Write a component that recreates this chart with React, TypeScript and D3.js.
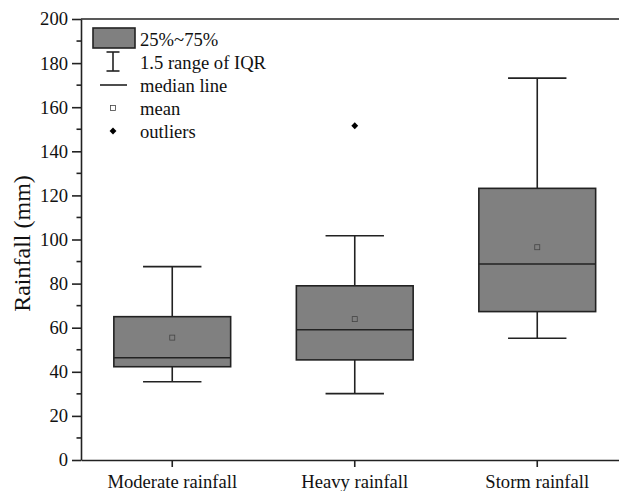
import { useEffect, useRef } from 'react';
import * as d3 from 'd3';

const WIDTH = 619;
const HEIGHT = 491;
const MARGIN = { top: 19, left: 81, bottom: 31 };
const STEP = 182.5;
const FONT = 'Liberation Serif, Times New Roman, serif';

const categories = ['Moderate rainfall', 'Heavy rainfall', 'Storm rainfall'];
const q1 = [42.3, 45.4, 67.3];
const median = [46.4, 59.1, 88.9];
const q3 = [65.0, 79.0, 123.2];
const whiskerLow = [35.5, 30.1, 55.2];
const whiskerHigh = [87.7, 101.7, 173.2];
const means = [55.5, 63.9, 96.5];
const outliers = [{ cat: 'Heavy rainfall', value: 151.6 }];
const yTicks = [0, 20, 40, 60, 80, 100, 120, 140, 160, 180, 200];
const legendItems = ['25%~75%', '1.5 range of IQR', 'median line', 'mean', 'outliers'];

export default function App() {
  const svgRef = useRef<SVGSVGElement>(null);

  useEffect(() => {
    document.body.style.margin = '0';
    const svg = d3.select(svgRef.current);
    svg.selectAll('*').remove();

    const bottom = HEIGHT - MARGIN.bottom;
    const x = d3.scaleBand().domain(categories).range([MARGIN.left, MARGIN.left + STEP * 3]).padding(0);
    const y = d3.scaleLinear().domain([0, 200]).range([bottom, MARGIN.top]);
    const cx = (c: string) => (x(c) as number) + x.bandwidth() / 2;
    const boxW = x.bandwidth() * 0.64;
    const capW = boxW / 2;
    const ink = '#222';

    // Y axis
    const yAxis = svg.append('g')
      .attr('transform', `translate(${MARGIN.left},0)`)
      .call(d3.axisLeft(y).tickValues(yTicks).tickSize(9).tickSizeOuter(0).tickPadding(4));
    yAxis.attr('font-family', FONT).attr('font-size', 18.6);
    yAxis.selectAll('text').attr('fill', '#111');
    yAxis.selectAll('.domain, .tick line').attr('stroke', ink).attr('stroke-width', 1.6);
    svg.append('g')
      .selectAll('line')
      .data(d3.range(10, 200, 20))
      .join('line')
      .attr('x1', MARGIN.left - 4.5)
      .attr('x2', MARGIN.left)
      .attr('y1', (d) => y(d))
      .attr('y2', (d) => y(d))
      .attr('stroke', ink)
      .attr('stroke-width', 1.6);

    // X axis
    const xAxis = svg.append('g')
      .attr('transform', `translate(0,${bottom})`)
      .call(d3.axisBottom(x).tickSize(7).tickSizeOuter(0).tickPadding(8));
    xAxis.attr('font-family', FONT).attr('font-size', 18.6);
    xAxis.selectAll('text').attr('fill', '#111');
    xAxis.selectAll('.domain, .tick line').attr('stroke', ink).attr('stroke-width', 1.6);

    // Top frame
    svg.append('line')
      .attr('x1', MARGIN.left).attr('x2', WIDTH)
      .attr('y1', y(200)).attr('y2', y(200))
      .attr('stroke', ink).attr('stroke-width', 1.6);

    // Y label
    svg.append('text')
      .attr('transform', `translate(30,${(y(0) + y(200)) / 2 + 4}) rotate(-90)`)
      .attr('text-anchor', 'middle')
      .attr('font-family', FONT)
      .attr('font-size', 24)
      .attr('fill', '#111')
      .text('Rainfall (mm)');

    // Boxes
    const g = svg.append('g');
    categories.forEach((c, i) => {
      const m = cx(c);
      g.append('line').attr('x1', m).attr('x2', m).attr('y1', y(whiskerHigh[i])).attr('y2', y(q3[i])).attr('stroke', ink).attr('stroke-width', 1.6);
      g.append('line').attr('x1', m).attr('x2', m).attr('y1', y(q1[i])).attr('y2', y(whiskerLow[i])).attr('stroke', ink).attr('stroke-width', 1.6);
      [whiskerHigh[i], whiskerLow[i]].forEach((v) => {
        g.append('line').attr('x1', m - capW / 2).attr('x2', m + capW / 2).attr('y1', y(v)).attr('y2', y(v)).attr('stroke', ink).attr('stroke-width', 1.6);
      });
      g.append('rect')
        .attr('x', m - boxW / 2).attr('width', boxW)
        .attr('y', y(q3[i])).attr('height', y(q1[i]) - y(q3[i]))
        .attr('fill', '#808080').attr('stroke', ink).attr('stroke-width', 1.6);
      g.append('line').attr('x1', m - boxW / 2).attr('x2', m + boxW / 2).attr('y1', y(median[i])).attr('y2', y(median[i])).attr('stroke', ink).attr('stroke-width', 1.6);
      g.append('rect')
        .attr('x', m - 2.5).attr('y', y(means[i]) - 2.5).attr('width', 5).attr('height', 5)
        .attr('fill', 'none').attr('stroke', '#444').attr('stroke-width', 0.8);
    });

    const diamond = d3.symbol().type(d3.symbolDiamond2).size(30);
    g.selectAll('.outlier')
      .data(outliers)
      .join('path')
      .attr('class', 'outlier')
      .attr('d', diamond)
      .attr('transform', (d) => `translate(${cx(d.cat)},${y(d.value)})`)
      .attr('fill', '#000');

    // Legend
    const lg = svg.append('g');
    const rowY = (i: number) => 39 + i * 23;
    const symX = 113;
    lg.append('rect').attr('x', 93).attr('y', 28).attr('width', 42).attr('height', 20)
      .attr('fill', '#808080').attr('stroke', ink).attr('stroke-width', 1.6);
    lg.append('line').attr('x1', symX).attr('x2', symX).attr('y1', rowY(1) - 10).attr('y2', rowY(1) + 9).attr('stroke', ink).attr('stroke-width', 1.6);
    [rowY(1) - 10, rowY(1) + 9].forEach((yy) => {
      lg.append('line').attr('x1', symX - 6.5).attr('x2', symX + 6.5).attr('y1', yy).attr('y2', yy).attr('stroke', ink).attr('stroke-width', 1.6);
    });
    lg.append('line').attr('x1', 100).attr('x2', 127).attr('y1', rowY(2)).attr('y2', rowY(2)).attr('stroke', ink).attr('stroke-width', 1.6);
    lg.append('rect').attr('x', symX - 2.5).attr('y', rowY(3) - 2.5).attr('width', 5).attr('height', 5)
      .attr('fill', 'none').attr('stroke', '#444').attr('stroke-width', 0.8);
    lg.append('path').attr('d', diamond).attr('transform', `translate(${symX},${rowY(4)})`).attr('fill', '#000');
    lg.selectAll('.ltxt')
      .data(legendItems)
      .join('text')
      .attr('class', 'ltxt')
      .attr('x', 140)
      .attr('y', (_, i) => rowY(i))
      .attr('dy', '0.35em')
      .attr('font-family', FONT)
      .attr('font-size', 18.6)
      .attr('fill', '#111')
      .text((d) => d);
  }, []);

  return (
    <div style={{ position: 'absolute', left: 0, top: 0 }}>
      <svg ref={svgRef} width={WIDTH} height={HEIGHT} style={{ display: 'block', background: '#fff' }} />
    </div>
  );
}
